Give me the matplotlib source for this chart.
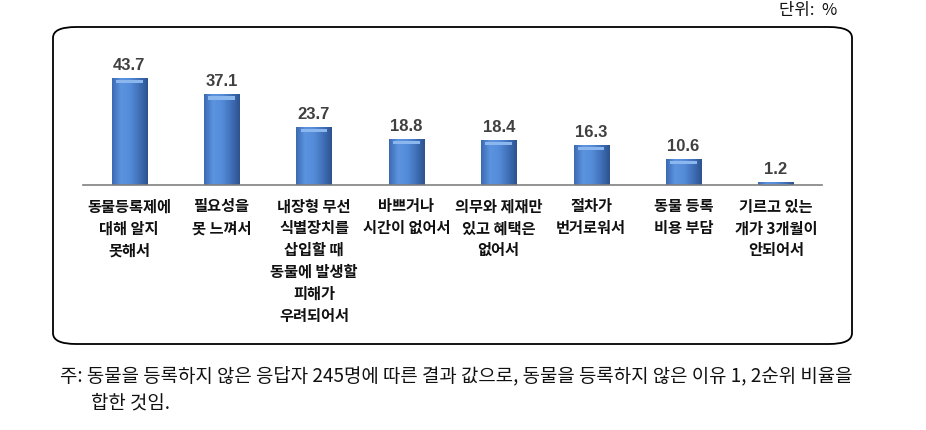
import numpy as np
import matplotlib.pyplot as plt
from matplotlib.patches import FancyBboxPatch
from matplotlib.colors import LinearSegmentedColormap

plt.rcParams['font.family'] = ['Noto Sans CJK KR', 'DejaVu Sans']

categories = [
    '동물등록제에\n대해 알지\n못해서',
    '필요성을\n못 느껴서',
    '내장형 무선\n식별장치를\n삽입할 때\n동물에 발생할\n피해가\n우려되어서',
    '바쁘거나\n시간이 없어서',
    '의무와 제재만\n있고 혜택은\n없어서',
    '절차가\n번거로워서',
    '동물 등록\n비용 부담',
    '기르고 있는\n개가 3개월이\n안되어서',
]
values = [43.7, 37.1, 23.7, 18.8, 18.4, 16.3, 10.6, 1.2]

W, H = 926, 431
fig = plt.figure(figsize=(W / 100, H / 100), dpi=100)

# rounded frame around the chart
box = FancyBboxPatch((53 / W, 1 - 345 / H), (852 - 53) / W, (345 - 28) / H,
                     boxstyle='round,pad=0,rounding_size=0.025',
                     transform=fig.transFigure, fill=False,
                     edgecolor='black', linewidth=1.3)
fig.patches.append(box)

ax = fig.add_axes([83 / W, 1 - 186 / H, (822 - 83) / W, (186 - 50) / H])
ax.set_xlim(-0.5, len(values) - 0.5)
ax.set_ylim(0, 55.5)
x = np.arange(len(values))
bars = ax.bar(x, values, width=0.38, color='#4A7FCB', edgecolor='#2D5592', linewidth=0.6, zorder=2)

# horizontal shading of the bars (bevelled look)
shade = LinearSegmentedColormap.from_list(
    'bev', ['#3D6AB2', '#5C94E0', '#558CD9', '#4171BA', '#2E5390'])
grad = np.linspace(0, 1, 64).reshape(1, -1)
for b in bars:
    bx, by, bw, bh = b.get_x(), b.get_y(), b.get_width(), b.get_height()
    im = ax.imshow(grad, cmap=shade, aspect='auto', extent=(bx, bx + bw, by, by + bh),
                   zorder=2.5, interpolation='bilinear')
    im.set_clip_path(b)
    top = min(bh, 1.3)
    ax.fill_between([bx + bw * 0.12, bx + bw * 0.88], by + bh - top * 1.7, by + bh - top * 0.7,
                    color='#8CB6EE', linewidth=0, zorder=3)
ax.set_xlim(-0.5, len(values) - 0.5)
ax.set_ylim(0, 55.5)

for xi, v in zip(x, values):
    ax.text(xi, v + 3.7, f'{v:.1f}', ha='center', va='baseline', fontsize=12,
            fontweight='bold', color='#404040',
            family=['Liberation Sans Narrow', 'Liberation Sans', 'DejaVu Sans'])

ax.set_yticks([])
ax.set_xticks(x)
ax.set_xticklabels(categories, fontsize=11, fontweight='bold', color='#111111',
                   linespacing=1.45, va='top')
ax.tick_params(axis='x', length=0, pad=9)
for s in ['top', 'left', 'right']:
    ax.spines[s].set_visible(False)
ax.spines['bottom'].set_color('#808080')
ax.spines['bottom'].set_linewidth(1.2)
ax.spines['bottom'].set_zorder(4)

fig.text(808 / W, 1 - 11 / H, '단위:  %', ha='center', va='center', fontsize=12, color='#111111')
fig.text(60 / W, 1 - 376 / H,
         '주: 동물을 등록하지 않은 응답자 245명에 따른 결과 값으로, 동물을 등록하지 않은 이유 1, 2순위 비율을',
         ha='left', va='center', fontsize=13.6, color='#111111')
fig.text(91 / W, 1 - 403 / H, '합한 것임.', ha='left', va='center', fontsize=13.6, color='#111111')

fig.savefig('out.png', dpi=100)
